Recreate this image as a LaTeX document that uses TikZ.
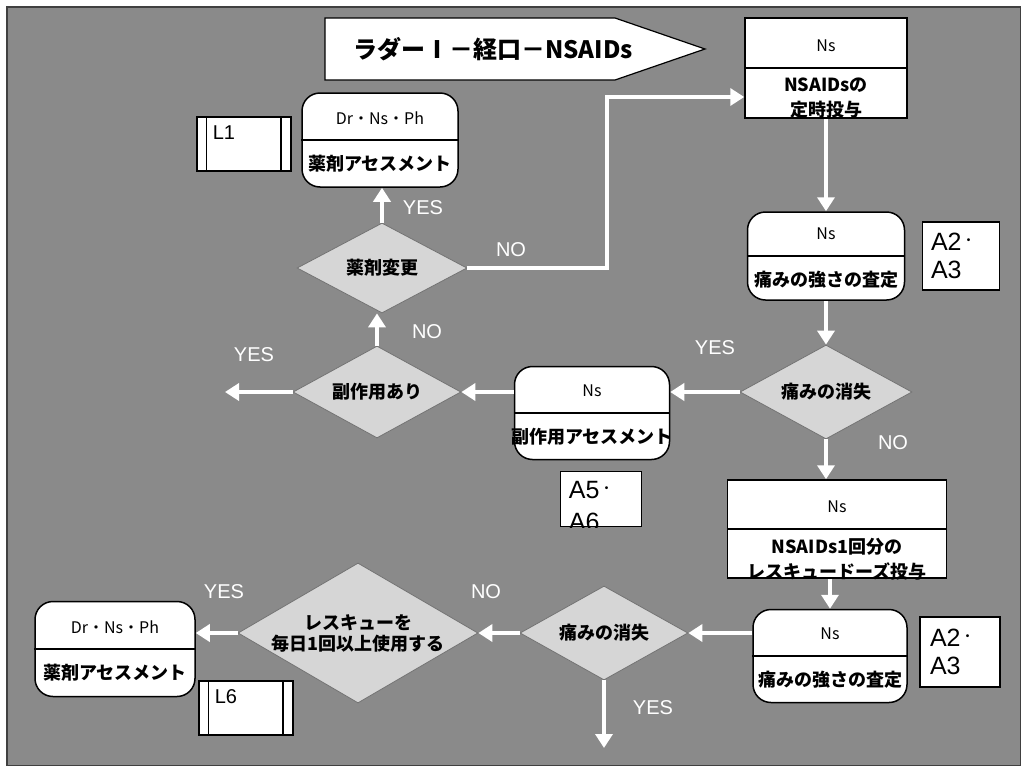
\documentclass[tikz,border=0pt]{standalone}
\usepackage{fontspec}
\setmainfont{Liberation Sans}
\newfontfamily\jp{Noto Sans CJK JP}
\usetikzlibrary{shapes.geometric,arrows.meta,positioning}
\newcommand{\refdot}{\raisebox{5pt}{\jp\fontsize{14}{14}\selectfont ・}}

\begin{document}
\begin{tikzpicture}[
  x=1pt, y=-1pt,
  box/.style={rectangle, draw, fill=white, line width=1.5pt, inner sep=0pt},
  oval/.style={box, rounded corners=18pt},
  dia/.style={diamond, draw=black!55, fill=black!16, line width=0.8pt, inner sep=0pt},
  uptext/.style={font=\jp\fontsize{16}{16}\selectfont, yshift=22pt},
  lowtext/.style={font=\jp\bfseries\fontsize{18}{18}\selectfont, yshift=-24pt},
  lowtwo/.style={font=\jp\bfseries\fontsize{18}{25}\selectfont, align=center, yshift=-30pt},
  ask/.style={font=\jp\bfseries\fontsize{18}{21}\selectfont, align=center},
  ref/.style={box, align=left, text width=60pt, inner xsep=8pt, font=\fontsize{25}{28}\selectfont},
  sub/.style={box, minimum width=94pt, minimum height=54pt},
  flow/.style={draw=white, line width=3.5pt, -{Triangle[width=17pt,length=14pt]}},
  yn/.style={text=white, font=\fontsize{20}{20}\selectfont}
]
  \useasboundingbox (0,0) rectangle (1021,766);
  % Background
  \filldraw[fill=black!46, draw=black!75, line width=1.5pt] (7,7) rectangle (1021,766);

  % Title
  \draw[fill=white, line width=1.2pt] (325,18) -- (615,18) -- (705,49) -- (615,80) -- (325,80) -- cycle;
  \node[font=\jp\bfseries\fontsize{24}{24}\selectfont] (title) at (493,49) {ラダーⅠ－経口－NSAIDs};

  % Boxes
  \node[box, minimum width=162pt, minimum height=100pt,
        label={[uptext]center:Ns}, label={[lowtwo]center:{NSAIDsの\\定時投与}}] (B1) at (826,68) {};
  \node[box, minimum width=219pt, minimum height=98pt,
        label={[uptext]center:Ns}, label={[lowtwo]center:{NSAIDs1回分の\\レスキュードーズ投与}}] (B2) at (837,529) {};

  % Assessments
  \node[oval, minimum width=157pt, minimum height=88pt,
        label={[uptext]center:Ns}, label={[lowtext]center:痛みの強さの査定}] (O1) at (826,256) {};
  \node[oval, minimum width=155pt, minimum height=93pt,
        label={[uptext]center:Ns}, label={[lowtext]center:副作用アセスメント}] (O2) at (592,413) {};
  \node[oval, minimum width=156pt, minimum height=94pt,
        label={[uptext]center:Dr・Ns・Ph}, label={[lowtext]center:薬剤アセスメント}] (O3) at (380,140) {};
  \node[oval, minimum width=154pt, minimum height=93pt,
        label={[uptext]center:Ns}, label={[lowtext]center:痛みの強さの査定}] (O4) at (830,656) {};
  \node[oval, minimum width=160pt, minimum height=95pt,
        label={[uptext]center:Dr・Ns・Ph}, label={[lowtext]center:薬剤アセスメント}] (O5) at (115,649) {};
  \foreach \n in {B1,B2,O1,O2,O3,O4,O5}
    \draw[line width=1.5pt] (\n.west) -- (\n.east);

  % Decisions
  \node[dia, minimum width=170pt, minimum height=90pt, label={[ask]center:薬剤変更}] (D1) at (382,268) {};
  \node[dia, minimum width=168pt, minimum height=92pt, label={[ask]center:副作用あり}] (D2) at (377,392) {};
  \node[dia, minimum width=172pt, minimum height=94pt, label={[ask]center:痛みの消失}] (D3) at (826,392) {};
  \node[dia, minimum width=168pt, minimum height=94pt, label={[ask]center:痛みの消失}] (D4) at (604,633) {};
  \node[dia, minimum width=240pt, minimum height=140pt,
        label={[ask]center:{レスキューを\\毎日1回以上使用する}}] (D5) at (358,633) {};

  % Sub-processes
  \node[sub, label={[anchor=north west, font=\fontsize{20}{20}\selectfont, xshift=13pt, yshift=-6pt]north west:L1}] (L1) at (244,144) {};
  \node[sub, label={[anchor=north west, font=\fontsize{20}{20}\selectfont, xshift=13pt, yshift=-6pt]north west:L6}] (L6) at (246,708) {};
  \foreach \n in {L1,L6} {
    \draw[line width=1.5pt] ([xshift=10pt]\n.north west) -- ([xshift=10pt]\n.south west);
    \draw[line width=1.5pt] ([xshift=-11pt]\n.north east) -- ([xshift=-11pt]\n.south east);
  }

  % References
  \node[ref, minimum width=77pt, minimum height=68pt] (A1) at (961,256) {A2\refdot\\A3};
  \node[ref, minimum width=80pt, minimum height=70pt] (A3) at (960,652) {A2\refdot\\A3};
  \node[box, minimum width=81pt, minimum height=55pt] (A5) at (601,499) {};
  \begin{scope}
    \clip (A5.north west) rectangle (A5.south east);
    \node[anchor=north west, align=left, font=\fontsize{25}{32}\selectfont, inner sep=0pt] (A5t)
      at ([xshift=9pt, yshift=-10pt]A5.north west) {A5\refdot\\A6};
  \end{scope}

  % Flow
  \coordinate (turn) at (607,97);
  \coordinate (out1) at (225,392);
  \coordinate (out2) at (604,748);
  \draw[flow] (B1.south) -- (O1.north);
  \draw[flow] (O1.south) -- (D3.north);
  \draw[flow] (D3.west) -- (D3.west -| O2.east);
  \draw[flow] (O2.west |- D2.east) -- (D2.east);
  \draw[flow] (D2.west) -- (out1);
  \draw[flow] (D2.north) -- (D2.north |- D1.south);
  \draw[flow] (D1.north) -- (D1.north |- O3.south);
  \draw[flow] (D1.east) -| (turn) -- (turn -| B1.west);
  \draw[flow] (D3.south) -- (D3.south |- B2.north);
  \draw[flow] (O4.north |- B2.south) -- (O4.north);
  \draw[flow] (O4.west |- D4.east) -- (D4.east);
  \draw[flow] (D4.west) -- (D5.east);
  \draw[flow] (D5.west) -- (D5.west -| O5.east);
  \draw[flow] (D4.south) -- (out2);

  % Answers
  \node[yn] (y1) at (423,208) {YES};
  \node[yn] (n1) at (511,250) {NO};
  \node[yn] (n2) at (427,332) {NO};
  \node[yn] (y2) at (254,355) {YES};
  \node[yn] (y3) at (715,348) {YES};
  \node[yn] (n3) at (893,443) {NO};
  \node[yn] (y4) at (224,592) {YES};
  \node[yn] (n4) at (486,592) {NO};
  \node[yn] (y5) at (653,708) {YES};
\end{tikzpicture}
\end{document}
